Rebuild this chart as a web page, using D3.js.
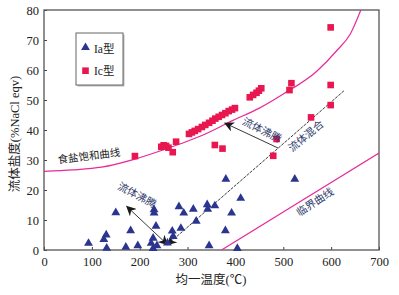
<!DOCTYPE html>
<html>
<head>
<meta charset="utf-8">
<script src="https://cdn.jsdelivr.net/npm/d3@7"></script>
<style>
  body { margin: 0; background: #fff; }
  svg { display: block; }
  .tick text { font-family: "Liberation Serif", "DejaVu Serif", serif; font-size: 12.5px; fill: #222; }
</style>
</head>
<body>
<div id="chart"></div>
<script>
// homogenization temperature (°C) / salinity (% NaCl eqv)
var iaTemp = [93, 125, 130, 131, 150, 171, 181, 196, 224, 228, 228, 230, 230, 234, 236, 258, 268, 270, 282, 286, 292, 312, 318, 341, 342, 345, 357, 379, 380, 392, 404, 411, 524];
var iaSal  = [1.9, 3.2, 4.7, 0.3, 12.1, 0.6, 6.1, 1.1, 1.9, 3.6, 0.2, 13.1, 12.0, 7.6, 1.1, 2.0, 6.0, 4.2, 14.1, 6.9, 12.0, 13.3, 9.3, 14.8, 13.3, 1.1, 14.4, 6.1, 23.3, 12.0, 0.2, 16.9, 23.3];

var icTemp = [190, 245, 250, 255, 260, 269, 276, 303, 309, 315, 322, 330, 337, 345, 352, 358, 365, 372, 379, 386, 393, 399, 357, 373, 430, 437, 444, 449, 454, 479, 486, 513, 517, 558, 599, 599, 599];
var icSal  = [31.3, 34.4, 34.9, 34.7, 34.1, 32.6, 36.1, 38.7, 39.2, 39.7, 40.3, 41.0, 41.7, 42.4, 43.1, 43.8, 44.4, 45.0, 45.6, 46.3, 46.8, 47.3, 35.0, 33.8, 50.9, 51.7, 52.4, 53.1, 53.9, 31.4, 37.0, 53.3, 55.6, 44.2, 74.2, 55.0, 48.3];

// halite saturation curve and critical curve
var haliteT = [0, 60, 120, 190, 250, 285, 326, 395, 450, 500, 570, 612, 640, 662];
var haliteS = [26.2, 26.7, 27.6, 30.3, 33.4, 35.4, 37.9, 43.2, 47.3, 52.0, 59.6, 66.5, 72.0, 80];
var criticalT = [371, 700];
var criticalS = [0, 32.3];

var xTicks = [0, 100, 200, 300, 400, 500, 600, 700];
var yTicks = [0, 10, 20, 30, 40, 50, 60, 70, 80];

var width = 399, height = 295;
var margin = { top: 10, right: 20, bottom: 45, left: 44 };

var svg = d3.select("#chart").append("svg")
  .attr("width", width)
  .attr("height", height);

var x = d3.scaleLinear().domain([0, 700]).range([margin.left, width - margin.right]);
var y = d3.scaleLinear().domain([0, 80]).range([height - margin.bottom, margin.top]);

var defs = svg.append("defs");
defs.append("clipPath").attr("id", "plotclip")
  .append("rect")
  .attr("x", x(0)).attr("y", y(80))
  .attr("width", x(700) - x(0)).attr("height", y(0) - y(80));

defs.append("marker")
  .attr("id", "head")
  .attr("viewBox", "0 0 10 10")
  .attr("refX", 9).attr("refY", 5)
  .attr("markerWidth", 10).attr("markerHeight", 10)
  .attr("markerUnits", "userSpaceOnUse")
  .attr("orient", "auto-start-reverse")
  .append("path")
  .attr("d", "M0,0 L10,5 L0,10 L3,5 Z")
  .attr("fill", "#1a1a1a");

// axes with inward ticks
svg.append("g")
  .attr("transform", "translate(0," + y(0) + ")")
  .call(d3.axisBottom(x).tickValues(xTicks).tickSize(-3).tickPadding(7).tickFormat(d3.format("d")))
  .call(function(g) { g.select(".domain").remove(); })
  .call(function(g) { g.selectAll("line").attr("stroke", "#444"); });

svg.append("g")
  .attr("transform", "translate(" + x(0) + ",0)")
  .call(d3.axisLeft(y).tickValues(yTicks).tickSize(-3).tickPadding(5).tickFormat(d3.format("d")))
  .call(function(g) { g.select(".domain").remove(); })
  .call(function(g) { g.selectAll("line").attr("stroke", "#444"); });

svg.append("rect")
  .attr("x", x(0)).attr("y", y(80))
  .attr("width", x(700) - x(0)).attr("height", y(0) - y(80))
  .attr("fill", "none")
  .attr("stroke", "#555")
  .attr("stroke-width", 1.3);

var plot = svg.append("g").attr("clip-path", "url(#plotclip)");

var line = d3.line()
  .x(function(d) { return x(d[0]); })
  .y(function(d) { return y(d[1]); });

plot.append("path")
  .datum(haliteT.map(function(t, i) { return [t, haliteS[i]]; }))
  .attr("d", line.curve(d3.curveMonotoneX))
  .attr("fill", "none")
  .attr("stroke", "#e8299a")
  .attr("stroke-width", 1.2);

plot.append("path")
  .datum(criticalT.map(function(t, i) { return [t, criticalS[i]]; }))
  .attr("d", line.curve(d3.curveLinear))
  .attr("fill", "none")
  .attr("stroke", "#e8299a")
  .attr("stroke-width", 1.2);

// arrows: mixing trend and two boiling trends
var mixStart = [258, 1.8], mixEnd = [627, 53.1];
var elbow = [489, 34.0];

svg.append("path")
  .datum([mixStart, mixEnd])
  .attr("d", line.curve(d3.curveLinear))
  .attr("fill", "none")
  .attr("stroke", "#222")
  .attr("stroke-width", 0.9)
  .attr("stroke-dasharray", "3,1.2")
  .attr("marker-start", "url(#head)");

svg.append("path")
  .datum([elbow, [378, 42.3]])
  .attr("d", line)
  .attr("fill", "none")
  .attr("stroke", "#222")
  .attr("stroke-width", 0.9)
  .attr("marker-end", "url(#head)");

svg.append("path")
  .datum([[173, 14.5], mixStart])
  .attr("d", line)
  .attr("fill", "none")
  .attr("stroke", "#222")
  .attr("stroke-width", 0.9)
  .attr("marker-start", "url(#head)")
  .attr("marker-end", "url(#head)");

// points
svg.append("g").selectAll("path")
  .data(iaTemp.map(function(t, i) { return [t, iaSal[i]]; }))
  .enter().append("path")
  .attr("d", d3.symbol().type(d3.symbolTriangle).size(34))
  .attr("transform", function(d) { return "translate(" + x(d[0]) + "," + (y(d[1]) - 1) + ")"; })
  .attr("fill", "#2b3590");

svg.append("g").selectAll("rect")
  .data(icTemp.map(function(t, i) { return [t, icSal[i]]; }))
  .enter().append("rect")
  .attr("x", function(d) { return x(d[0]) - 3.3; })
  .attr("y", function(d) { return y(d[1]) - 3.3; })
  .attr("width", 6.6).attr("height", 6.6)
  .attr("fill", "#e8174f");

// annotations
var noteFont = "'Noto Sans CJK SC', sans-serif";
function note(text, tx, ty, angle, color) {
  svg.append("text")
    .attr("transform", "translate(" + tx + "," + ty + ") rotate(" + angle + ")")
    .attr("text-anchor", "middle")
    .attr("dy", "0.35em")
    .style("font-family", noteFont)
    .style("font-size", "10.5px")
    .style("fill", color)
    .text(text);
}
note("食盐饱和曲线", 89, 156, -7, "#222");
note("流体沸腾", 262, 130, 27, "#2d3a6b");
note("流体混合", 306, 136, -40, "#2d3a6b");
note("流体沸腾", 137, 195, 28, "#2d3a6b");
note("临界曲线", 315, 202, -33, "#2d3a6b");

// legend
var legend = svg.append("g").attr("transform", "translate(76,33)");
legend.append("rect")
  .attr("x", 1.5).attr("y", 1.5).attr("width", 47).attr("height", 52)
  .attr("fill", "#bbb");
legend.append("rect")
  .attr("width", 47).attr("height", 52)
  .attr("fill", "#fff")
  .attr("stroke", "#666")
  .attr("stroke-width", 1);
legend.append("path")
  .attr("d", d3.symbol().type(d3.symbolTriangle).size(34))
  .attr("transform", "translate(9.5,14.5)")
  .attr("fill", "#2b3590");
legend.append("rect")
  .attr("x", 6.2).attr("y", 34.4).attr("width", 6.6).attr("height", 6.6)
  .attr("fill", "#e8174f");
[["Ia型", 15.5], ["Ic型", 37.8]].forEach(function(d) {
  legend.append("text")
    .attr("x", 18).attr("y", d[1])
    .attr("dy", "0.35em")
    .style("font-family", "'Liberation Serif', 'Noto Sans CJK SC', serif")
    .style("font-size", "11.5px")
    .style("fill", "#222")
    .text(d[0]);
});

// axis titles
svg.append("text")
  .attr("transform", "translate(15," + 134 + ") rotate(-90)")
  .attr("text-anchor", "middle")
  .attr("dy", "0.35em")
  .style("font-family", "'Liberation Serif', 'Noto Sans CJK SC', serif")
  .style("font-size", "12.5px")
  .style("fill", "#222")
  .text("流体盐度(%NaCl eqv)");

svg.append("text")
  .attr("x", 211).attr("y", 280)
  .attr("text-anchor", "middle")
  .attr("dy", "0.35em")
  .style("font-family", "'Liberation Serif', 'Noto Sans CJK SC', serif")
  .style("font-size", "12.5px")
  .style("fill", "#222")
  .text("均一温度(℃)");
</script>
</body>
</html>
